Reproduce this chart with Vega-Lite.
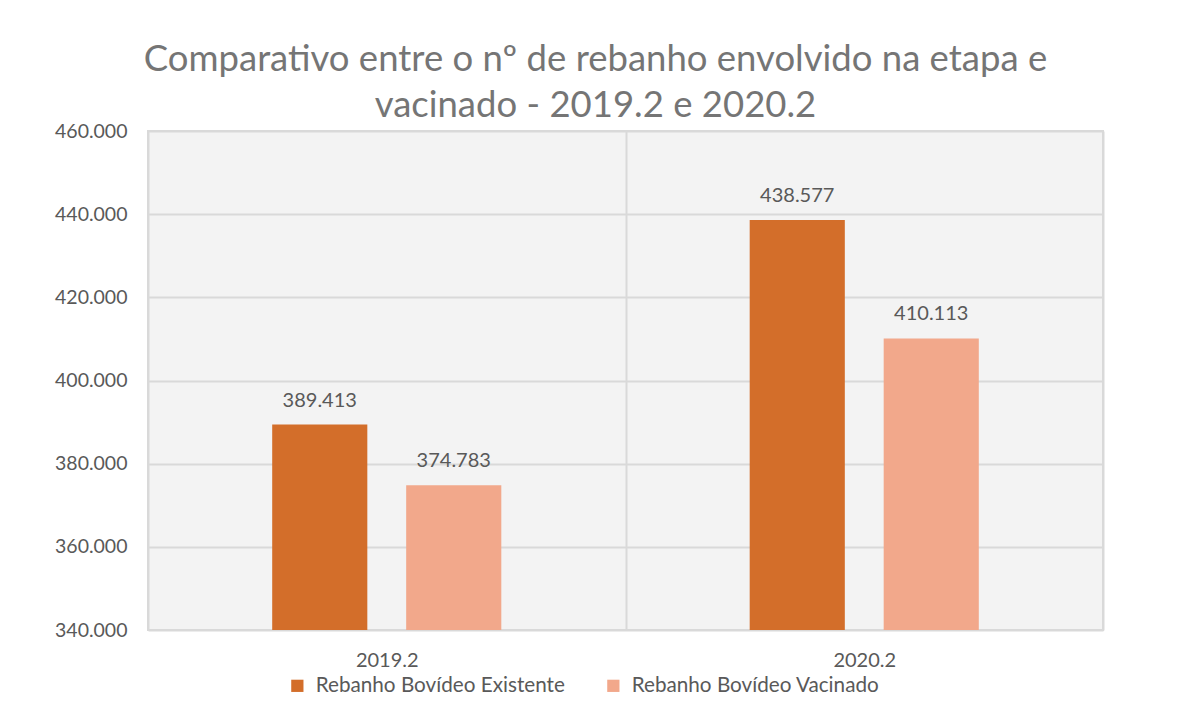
{
  "$schema": "https://vega.github.io/schema/vega-lite/v6.json",
  "autosize": {"type": "none"},
  "width": 955,
  "height": 499,
  "padding": {"left": 148, "top": 131, "right": 77, "bottom": 78},
  "background": "white",
  "config": {
    "font": "Lato",
    "locale": {"number": {"decimal": ",", "thousands": ".", "grouping": [3], "currency": ["R$", ""]}},
    "view": {"fill": "#f3f3f3", "stroke": "#d9d9d9", "strokeWidth": 2}
  },
  "title": {
    "text": ["Comparativo entre o nº de rebanho envolvido na etapa e", "vacinado - 2019.2 e 2020.2"],
    "fontSize": 36.5,
    "font": "Lato",
    "fontWeight": "normal",
    "color": "#757575",
    "lineHeight": 46,
    "anchor": "middle",
    "dx": -30,
    "offset": -3
  },
  "data": {
    "values": [
      {"periodo": "2019.2", "serie": "Rebanho Bovídeo Existente", "valor": 389413},
      {"periodo": "2019.2", "serie": "Rebanho Bovídeo Vacinado", "valor": 374783},
      {"periodo": "2020.2", "serie": "Rebanho Bovídeo Existente", "valor": 438577},
      {"periodo": "2020.2", "serie": "Rebanho Bovídeo Vacinado", "valor": 410113}
    ]
  },
  "encoding": {
    "x": {
      "field": "periodo", "type": "nominal",
      "scale": {"paddingInner": 0, "paddingOuter": 0},
      "axis": {
        "title": null, "labelAngle": 0, "labelFontSize": 20, "labelColor": "#595959",
        "labelPadding": 20, "ticks": false, "domain": false, "labelLimit": 300,
        "grid": true, "tickBand": "extent", "gridColor": "#d9d9d9", "gridWidth": 2
      }
    },
    "xOffset": {
      "field": "serie", "type": "nominal",
      "scale": {"paddingInner": 0.29, "paddingOuter": 0.927}
    },
    "y": {
      "field": "valor", "type": "quantitative",
      "scale": {"domain": [340000, 460000], "zero": false, "nice": false},
      "axis": {
        "title": null, "values": [340000, 360000, 380000, 400000, 420000, 440000, 460000],
        "format": ",.0f", "labelFontSize": 19.5, "labelColor": "#595959", "labelPadding": 21,
        "ticks": false, "domain": false, "gridColor": "#d9d9d9", "gridWidth": 2
      }
    }
  },
  "layer": [
    {
      "mark": {"type": "bar", "clip": true},
      "encoding": {
        "color": {
          "field": "serie", "type": "nominal",
          "scale": {"domain": ["Rebanho Bovídeo Existente", "Rebanho Bovídeo Vacinado"], "range": ["#D36E2A", "#F2A88B"]},
          "legend": {
            "title": null, "orient": "none", "direction": "horizontal",
            "legendX": 139, "legendY": 544, "labelLimit": 400,
            "symbolType": "square", "symbolSize": 150, "symbolStrokeWidth": 0,
            "labelFontSize": 20.7, "labelColor": "#595959", "columnPadding": 38, "labelOffset": 8
          }
        }
      }
    },
    {
      "mark": {"type": "text", "baseline": "bottom", "dy": -14, "fontSize": 20, "color": "#595959"},
      "encoding": {
        "text": {"field": "valor", "type": "quantitative", "format": ",.0f"}
      }
    }
  ]
}
